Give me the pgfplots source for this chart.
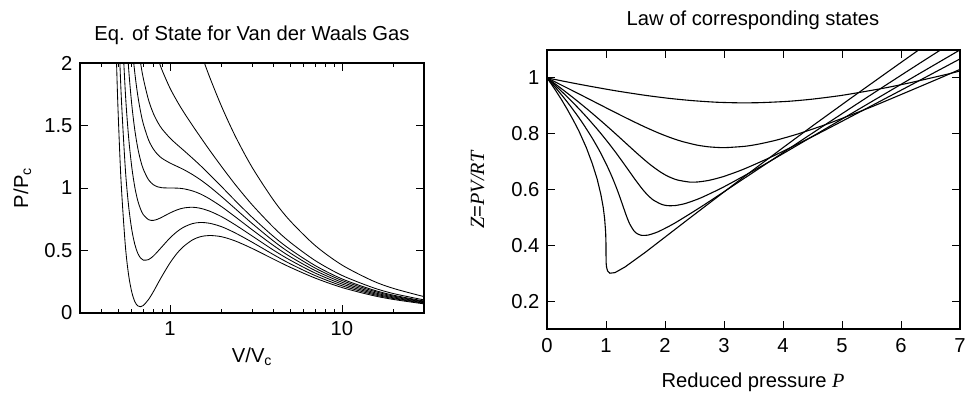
\documentclass[border=0pt]{standalone}
\usepackage{fontspec}
\setmainfont{Liberation Sans}
\newfontfamily\seriffont{Liberation Serif}
\usepackage{pgfplots}
\pgfplotsset{compat=1.18}
\begin{document}
\begin{tikzpicture}[font=\fontsize{20.2}{24}\selectfont]
\path[use as bounding box] (0pt,0pt) rectangle (969pt,394pt);
\begin{axis}[
  at={(80pt,81pt)}, anchor=south west,
  width=344pt, height=250pt, scale only axis,
  xmode=log, xmin=0.3, xmax=30, ymin=0, ymax=2,
  xtick={1,10}, xticklabels={1,10},
  minor xtick={0.4,0.5,0.6,0.7,0.8,0.9,2,3,4,5,6,7,8,9,20,30},
  ytick={0,0.5,1,1.5,2}, yticklabels={0,0.5,1,1.5,2},
  tick align=inside, major tick length=8pt, minor tick length=4pt,
  axis line style={line width=1.3pt},
  every tick/.style={black, line width=0.8pt},
  xticklabel style={yshift=-5pt},
  yticklabel style={xshift=-4pt},
  /pgf/number format/assume math mode=true,
  clip=true,
]
\addplot[black, line width=0.85pt, smooth] table {
0.47 3.004
0.48 2.434
0.49 1.973
0.5 1.6
0.52 1.048
0.55 0.545
0.575 0.305
0.6 0.167
0.625 0.091
0.65 0.057
0.675 0.050
0.7 0.060
0.75 0.107
0.8 0.169
0.85 0.235
0.9 0.296
1.0 0.4
1.1 0.478
1.2 0.532
1.35 0.584
1.5 0.610
1.7 0.620
2.0 0.61
2.4 0.576
3 0.517
4 0.431
5 0.366
7 0.279
10 0.204
15 0.141
20 0.108
30 0.073
};
\addplot[black, line width=0.85pt, smooth] table {
0.48 3.343
0.49 2.824
0.5 2.4
0.52 1.762
0.55 1.160
0.575 0.857
0.6 0.667
0.625 0.549
0.65 0.478
0.675 0.440
0.7 0.423
0.75 0.427
0.8 0.455
0.85 0.493
0.9 0.531
1.0 0.6
1.1 0.651
1.2 0.686
1.35 0.715
1.5 0.724
1.7 0.718
2.0 0.69
2.4 0.640
3 0.567
4 0.467
5 0.394
7 0.299
10 0.218
15 0.150
20 0.115
30 0.078
};
\addplot[black, line width=0.85pt, smooth] table {
0.5 3.2
0.52 2.476
0.55 1.775
0.575 1.408
0.6 1.167
0.625 1.006
0.65 0.899
0.675 0.831
0.7 0.787
0.75 0.747
0.8 0.741
0.85 0.751
0.9 0.767
1.0 0.8
1.1 0.825
1.2 0.840
1.35 0.846
1.5 0.838
1.7 0.815
2.0 0.77
2.4 0.705
3 0.617
4 0.503
5 0.423
7 0.319
10 0.232
15 0.159
20 0.121
30 0.082
};
\addplot[black, line width=0.85pt, smooth] table {
0.52 3.191
0.55 2.391
0.575 1.960
0.6 1.667
0.625 1.463
0.65 1.320
0.675 1.221
0.7 1.151
0.75 1.067
0.8 1.027
0.85 1.009
0.9 1.002
1.0 1.000
1.1 0.999
1.2 0.994
1.35 0.977
1.5 0.953
1.7 0.913
2.0 0.85
2.4 0.769
3 0.667
4 0.540
5 0.451
7 0.339
10 0.246
15 0.168
20 0.128
30 0.087
};
\addplot[black, line width=0.85pt, smooth] table {
0.55 3.006
0.575 2.512
0.6 2.167
0.625 1.92
0.65 1.741
0.675 1.611
0.7 1.514
0.75 1.387
0.8 1.3125
0.85 1.267
0.9 1.237
1.0 1.2
1.1 1.173
1.2 1.148
1.35 1.108
1.5 1.067
1.7 1.011
2.0 0.93
2.4 0.834
3 0.717
4 0.576
5 0.48
7 0.359
10 0.260
15 0.178
20 0.135
30 0.091
};
\addplot[black, line width=0.85pt, smooth] table {
0.6 2.667
0.625 2.377
0.65 2.162
0.675 2.001
0.7 1.878
0.75 1.707
0.8 1.598
0.85 1.525
0.9 1.472
1.0 1.4
1.1 1.347
1.2 1.302
1.35 1.239
1.5 1.181
1.7 1.108
2.0 1.01
2.4 0.898
3 0.767
4 0.6125
5 0.509
7 0.379
10 0.273
15 0.187
20 0.142
30 0.096
};
\addplot[black, line width=0.85pt, smooth] table {
0.75 2.347
0.8 2.170
0.85 2.042
0.9 1.943
1.0 1.8
1.1 1.695
1.2 1.609
1.35 1.502
1.5 1.410
1.7 1.303
2.0 1.17
2.4 1.027
3 0.867
4 0.685
5 0.566
7 0.419
10 0.301
15 0.205
20 0.155
30 0.105
};
\addplot[black, line width=0.85pt, smooth] table {
1.25 2.444
1.35 2.288
1.5 2.095
1.7 1.889
2.0 1.65
2.4 1.414
3 1.167
4 0.903
5 0.737
7 0.539
10 0.384
15 0.259
20 0.196
30 0.131
};
\end{axis}
\begin{axis}[
  at={(547pt,65pt)}, anchor=south west,
  width=413pt, height=279pt, scale only axis,
  xmin=0, xmax=7, ymin=0.1, ymax=1.1,
  xtick={0,1,2,3,4,5,6,7}, xticklabels={0,1,2,3,4,5,6,7},
  ytick={0.2,0.4,0.6,0.8,1}, yticklabels={0.2,0.4,0.6,0.8,1},
  tick align=inside, major tick length=8pt,
  axis line style={line width=1.3pt},
  every tick/.style={black, line width=0.8pt},
  xticklabel style={yshift=-6pt},
  yticklabel style={xshift=-4pt},
  /pgf/number format/assume math mode=true,
  clip=true,
]
\addplot[black, line width=1.1pt] table {
0 1
0.0866 0.9738
0.1281 0.9607
0.2459 0.922
0.3388 0.889
0.4514 0.846
0.5398 0.810
0.6667 0.75
0.769 0.692
0.85 0.6375
0.913 0.582
0.953 0.536
0.977 0.495
0.994 0.447
0.999 0.412
1.0 0.375
1.002 0.338
1.009 0.322
1.027 0.308
1.067 0.300
1.151 0.302
1.320 0.322
1.667 0.375
2.391 0.493
3.191 0.622
4.0 0.75
4.526 0.832
5.161 0.929
5.931 1.045
6.875 1.186
};
\addplot[black, line width=1.1pt, smooth, tension=0.4] table {
0 1
0.0956 0.9772
0.1417 0.9658
0.2735 0.9322
0.3788 0.9039
0.5086 0.8669
0.6125 0.8352
0.7667 0.7841
0.8986 0.7352
1.01 0.6886
1.1082 0.6423
1.181 0.6039
1.2391 0.5703
1.3013 0.5323
1.3468 0.5050
1.4 0.4773
1.4728 0.4519
1.5252 0.4420
1.5982 0.4359
1.7067 0.4364
1.8776 0.4481
2.1626 0.4792
2.6667 0.5455
3.621 0.6790
4.619 0.8188
5.6 0.9545
6.228 1.0404
6.979 1.1420
};
\addplot[black, line width=1.1pt, smooth, tension=0.4] table {
0 1
0.1045 0.9801
0.1552 0.9701
0.3010 0.9407
0.4188 0.9161
0.5657 0.8839
0.6852 0.8565
0.8667 0.8125
1.0276 0.7707
1.17 0.7313
1.3034 0.6924
1.4096 0.6608
1.5014 0.6334
1.609 0.6034
1.6946 0.5825
1.8 0.5625
1.9434 0.5466
2.0413 0.5422
2.1696 0.5424
2.3467 0.5500
2.6049 0.5698
3.0047 0.6103
3.6667 0.6875
4.852 0.8340
6.048 0.9828
7.2 1.125
};
\addplot[black, line width=1.1pt, smooth, tension=0.4] table {
0 1
0.1135 0.9824
0.1688 0.9737
0.3286 0.9479
0.4588 0.9264
0.6229 0.8984
0.7580 0.8745
0.9667 0.8365
1.1566 0.8007
1.33 0.7673
1.4985 0.7348
1.6381 0.7088
1.7637 0.6868
1.9167 0.6635
2.0424 0.6480
2.2 0.6346
2.4139 0.6267
2.5575 0.6271
2.7411 0.6326
2.9867 0.6462
3.3321 0.6728
3.8464 0.7212
4.6667 0.8077
6.083 0.9650
6.947 1.0621
7.476 1.1214
};
\addplot[black, line width=1.1pt, smooth, tension=0.4] table {
0 1
0.1315 0.9863
0.1959 0.9794
0.3838 0.9595
0.5388 0.9429
0.7371 0.9214
0.9034 0.9034
1.1667 0.875
1.4147 0.8488
1.65 0.825
1.8887 0.8027
2.0953 0.7857
2.2883 0.7723
2.5321 0.7596
2.7381 0.7530
3 0.75
3.3551 0.7549
3.5897 0.7628
3.8839 0.7768
4.2667 0.8
4.7866 0.8377
5.5314 0.8988
6.6667 1.0
7.298 1.0582
};
\addplot[black, line width=1.1pt, smooth, tension=0.4] table {
0 1
0.1765 0.9925
0.2637 0.9888
0.5217 0.9782
0.7388 0.9697
1.0229 0.9589
1.2671 0.9503
1.6667 0.9375
2.0598 0.9269
2.45 0.9188
2.8643 0.9129
3.2381 0.9107
3.5998 0.9112
4.0705 0.9158
4.4772 0.9234
5 0.9375
5.7081 0.9632
6.1704 0.9834
6.7411 1.0111
7.009 1.0251
};
\end{axis}
\node[anchor=base] at (252pt,353pt) {Eq. of State for Van der Waals Gas};
\node[anchor=base] at (753pt,368pt) {Law of corresponding states};
\node[anchor=base] at (252pt,32pt) {V/V\textsubscript{c}};
\node[anchor=base] at (753pt,7pt) {Reduced pressure {\seriffont\itshape P}};
\node[anchor=base, rotate=90] at (28pt,206pt) {P/P\textsubscript{c}};
\node[anchor=base, rotate=90] at (484pt,204pt) {{\seriffont\itshape Z}={\seriffont\itshape PV/RT}};
\end{tikzpicture}
\end{document}
